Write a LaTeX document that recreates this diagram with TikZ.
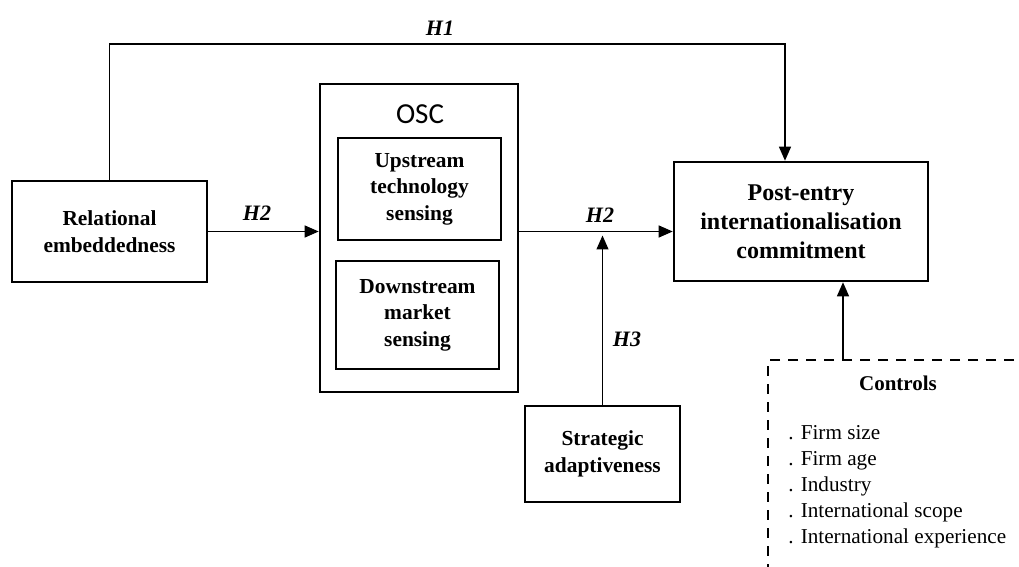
\documentclass[tikz,border=0pt]{standalone}
\usepackage{fontspec}
\setmainfont{Liberation Serif}
\newfontfamily\oscfont{Carlito}
\usetikzlibrary{positioning}
\usetikzlibrary{arrows.meta}
\tikzset{
  box/.style={draw, line width=1.3pt, align=center, inner sep=0pt,
    font=\bfseries\fontsize{10.7}{13.3}\selectfont},
  arr/.style={line width=0.65pt, -{Triangle[length=7pt,width=6pt]}},
  hyp/.style={font=\bfseries\itshape\fontsize{11}{12}\selectfont},
}

\begin{document}
\begin{tikzpicture}[x=0.5pt, y=-0.5pt]
  \useasboundingbox (0,0) rectangle (1019,567);
  \begin{scope}
  \clip (0,0) rectangle (1019,567);

  % constructs
  \node [box, minimum width=97.5pt, minimum height=50.5pt] (re) at (109.5,231.5) {Relational\\embeddedness};
  \node [box, minimum width=99pt, minimum height=154pt] (osc) at (419,238) {};
  \node [font=\oscfont\fontsize{14.5}{16}\selectfont] (osclabel) at (420,114) {OSC};
  \node [box, minimum width=81.5pt, minimum height=51pt] (up) at (419.5,189) {Upstream\\technology\\sensing};
  \node [box, minimum width=81.5pt, minimum height=54pt] (down) at (417.5,315) {Downstream\\market\\sensing};
  \node [box, minimum width=127pt, minimum height=59.5pt, font=\bfseries\fontsize{12}{14.5}\selectfont] (peic) at (801,221.5) {Post-entry\\internationalisation\\commitment};
  \node [box, minimum width=77.5pt, minimum height=48pt] (sa) at (602.5,454) {Strategic\\adaptiveness};

  % controls
  \node [draw, dashed, dash pattern=on 5pt off 4pt, line width=1.2pt, anchor=north west,
    minimum width=150pt, minimum height=120pt] (ctrl) at (767,359) {};
  \node [font=\bfseries\fontsize{10.5}{12}\selectfont] (ctrlhead) at (898,383) {Controls};
  \node [anchor=north west, align=left, inner sep=0pt, font=\fontsize{10.6}{13}\selectfont] (ctrllist) at (788,425)
    {. Firm size\\. Firm age\\. Industry\\. International scope\\. International experience};

  % paths
  \coordinate (h1top) at (785,44);
  \coordinate (mod) at (sa.north |- re.east);
  \coordinate (cin) at (843,359);
  \draw [arr] (re.north) |- (h1top) -- (h1top |- peic.north);
  \draw [arr] (re.east) -- (re.east -| osc.west);
  \draw [arr] (osc.east |- re.east) -- (peic.west |- re.east);
  \draw [arr, shorten >=2pt] (sa.north) -- (mod);
  \draw [arr] (cin) -- (cin |- peic.south);

  \node [hyp] (h1) at (440,28) {H1};
  \node [hyp] (h2a) at (257,213) {H2};
  \node [hyp] (h2b) at (600,215) {H2};
  \node [hyp] (h3) at (627,339) {H3};
  \end{scope}
\end{tikzpicture}
\end{document}
